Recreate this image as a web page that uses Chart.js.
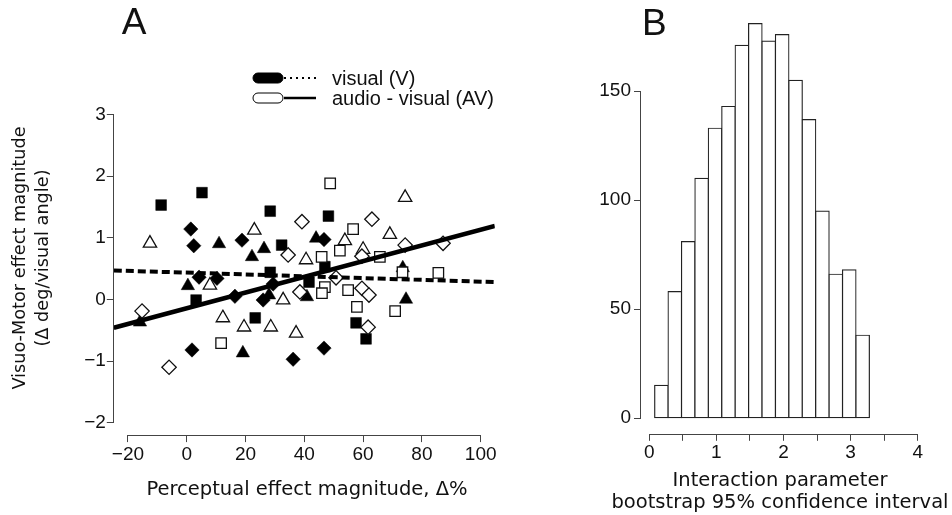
<!DOCTYPE html>
<html>
<head>
<meta charset="utf-8">
<script src="https://cdn.jsdelivr.net/npm/chart.js@4.4.0/dist/chart.umd.min.js"></script>
<style>
  body { margin: 0; background: #fff; width: 952px; height: 515px; overflow: hidden; position: relative; }
  canvas { position: absolute; top: 0; }
  #chart-a { left: 0; }
  #chart-b { left: 560px; }
</style>
</head>
<body>
<canvas id="chart-a" width="560" height="515"></canvas>
<canvas id="chart-b" width="392" height="515"></canvas>
<script>
// ---- panel A data ----
const xTicksA = [-20, 0, 20, 40, 60, 80, 100];
const yTicksA = [-2, -1, 0, 1, 2, 3];

// visual (V): filled markers
const vSquaresX = [-8.7, 5.2, 28.4, 48.2, 32.3, 3.2, 23.3, 28.4, 47.0, 41.6, 57.6, 61.0];
const vSquaresY = [1.53, 1.73, 1.43, 1.35, 0.88, -0.01, -0.30, 0.44, 0.53, 0.28, -0.38, -0.64];
const vDiamondsX = [1.4, 2.4, 4.2, 10.3, 16.4, 26.0, 29.4, 18.8, 1.8, 36.2, 46.7, 46.7];
const vDiamondsY = [1.14, 0.87, 0.36, 0.34, 0.05, -0.01, 0.25, 0.96, -0.82, -0.97, -0.79, 0.97];
const vTrianglesX = [11.0, 0.4, -15.9, 19.1, 22.2, 26.3, 44.0, 40.9, 28.0, 74.6, 73.5];
const vTrianglesY = [0.90, 0.22, -0.37, -0.87, 0.69, 0.82, 0.99, 0.04, 0.07, 0.0, 0.51];

// audio - visual (AV): open markers
const avSquaresX = [48.8, 56.6, 52.1, 45.9, 65.7, 73.4, 85.6, 47.0, 46.0, 54.9, 57.9, 70.9, 11.7];
const avSquaresY = [1.88, 1.14, 0.79, 0.69, 0.69, 0.44, 0.43, 0.20, 0.10, 0.15, -0.12, -0.19, -0.71];
const avDiamondsX = [-15.2, -6.0, 39.2, 34.5, 63.0, 59.6, 74.3, 87.2, 50.8, 38.5, 59.6, 62.0, 61.7];
const avDiamondsY = [-0.19, -1.10, 1.26, 0.72, 1.30, 0.70, 0.88, 0.91, 0.35, 0.12, 0.18, 0.07, -0.45];
const avTrianglesX = [-12.5, 23.0, 7.9, 12.3, 19.5, 32.8, 28.6, 37.2, 40.6, 74.3, 69.1, 53.8, 60.0];
const avTrianglesY = [0.91, 1.12, 0.23, -0.30, -0.45, -0.01, -0.45, -0.55, 0.64, 1.65, 1.05, 0.95, 0.81];

// regression lines, end points at the plot edges
const fitX = [-24.8, 104.8];
const vFitY = [0.47, 0.28];
const avFitY = [-0.46, 1.19];

// ---- panel B data ----
const binCenters = [0.18, 0.38, 0.58, 0.78, 0.98, 1.18, 1.38, 1.58, 1.78, 1.98, 2.18, 2.38, 2.58, 2.78, 2.98, 3.18];
const binCounts = [15, 58, 81, 110, 133, 143, 171, 181, 173, 176, 155, 137, 95, 66, 68, 38];
const xTicksB = [0, 0.5, 1, 1.5, 2, 2.5, 3, 3.5, 4];
const yTicksB = [0, 50, 100, 150];

const tickFont = { family: 'Liberation Sans', size: 19 };
const titleFont = '19.5px "DejaVu Sans"';
const yTitleFont = '17.7px "DejaVu Sans"';
const ink = '#111';

function pts(xs, ys) {
    return xs.map((x, i) => ({ x: x, y: ys[i] }));
}

function minus(v) {
    return String(v).replace('-', '\u2212');
}

// R-like axis: ticks outside, no grid, labels only where given
function axis(min, max, ticks, size, pad, label) {
    return {
        type: 'linear', min: min, max: max,
        afterBuildTicks: s => { s.ticks = ticks.map(v => ({ value: v })); },
        afterFit: s => {
            if (s.isHorizontal()) s.height = size; else s.width = size;
            s.paddingTop = 0; s.paddingBottom = 0; s.paddingLeft = 0; s.paddingRight = 0;
        },
        border: { display: false },
        grid: { drawOnChartArea: false, drawTicks: true, tickLength: 7, color: '#444', lineWidth: 1, offset: false },
        ticks: { font: tickFont, color: ink, padding: pad, autoSkip: false, maxRotation: 0, callback: label || minus }
    };
}

// axis lines only between first and last tick, as R draws them
function drawAxisLines(chart, xt, yt) {
    const { ctx, chartArea: a, scales: { x, y } } = chart;
    ctx.save();
    ctx.strokeStyle = '#444';
    ctx.lineWidth = 1;
    ctx.beginPath();
    const by = Math.round(a.bottom) + 0.5;
    ctx.moveTo(x.getPixelForValue(xt[0]), by);
    ctx.lineTo(x.getPixelForValue(xt[xt.length - 1]), by);
    const lx = Math.round(a.left) - 0.5;
    ctx.moveTo(lx, y.getPixelForValue(yt[0]));
    ctx.lineTo(lx, y.getPixelForValue(yt[yt.length - 1]));
    ctx.stroke();
    ctx.restore();
}

function text(ctx, str, x, y, font, align, rot) {
    ctx.save();
    ctx.translate(x, y);
    if (rot) ctx.rotate(rot);
    ctx.font = font;
    ctx.fillStyle = ink;
    ctx.textAlign = align || 'center';
    ctx.textBaseline = 'middle';
    ctx.fillText(str, 0, 0);
    ctx.restore();
}

function pill(ctx, x, y, w, h, filled) {
    const r = h / 2;
    ctx.beginPath();
    ctx.moveTo(x + r, y - r);
    ctx.lineTo(x + w - r, y - r);
    ctx.arc(x + w - r, y, r, -Math.PI / 2, Math.PI / 2);
    ctx.lineTo(x + r, y + r);
    ctx.arc(x + r, y, r, Math.PI / 2, Math.PI * 1.5);
    ctx.closePath();
    ctx.fillStyle = filled ? '#000' : '#fff';
    ctx.fill();
    ctx.lineWidth = 1;
    ctx.strokeStyle = '#000';
    ctx.stroke();
}

const legendRows = [
    { label: 'visual (V)', filled: true, dash: [2, 4], width: 2 },
    { label: 'audio - visual (AV)', filled: false, dash: [], width: 2.5 }
];

const panelA = {
    id: 'panelA',
    afterDraw(chart) {
        const ctx = chart.ctx;
        drawAxisLines(chart, xTicksA, yTicksA);
        text(ctx, 'A', 134, 24, '37px "Liberation Sans"');
        text(ctx, 'Perceptual effect magnitude, \u0394%', 307, 490, titleFont);
        text(ctx, 'Visuo-Motor effect magnitude', 20, 258, yTitleFont, 'center', -Math.PI / 2);
        text(ctx, '(\u0394 deg/visual angle)', 43, 258, yTitleFont, 'center', -Math.PI / 2);
        legendRows.forEach((row, i) => {
            const y = 78 + i * 20;
            ctx.save();
            pill(ctx, 253, y, 30, 10, row.filled);
            ctx.beginPath();
            ctx.setLineDash(row.dash);
            ctx.lineWidth = row.width;
            ctx.strokeStyle = '#000';
            ctx.moveTo(284, y);
            ctx.lineTo(316, y);
            ctx.stroke();
            ctx.restore();
            text(ctx, row.label, 332, y + 1, '20px "Liberation Sans"', 'left');
        });
    }
};

const openStyle = { backgroundColor: '#fff', borderColor: ink, borderWidth: 1.3 };
const filledStyle = { backgroundColor: '#000', borderColor: '#000', borderWidth: 0.5 };

new Chart(document.getElementById('chart-a'), {
    type: 'scatter',
    data: {
        datasets: [
            { type: 'line', label: 'AV fit', data: pts(fitX, avFitY), borderColor: '#000', borderWidth: 4.5, pointRadius: 0, tension: 0 },
            { type: 'line', label: 'V fit', data: pts(fitX, vFitY), borderColor: '#000', borderWidth: 4, borderDash: [8, 4], pointRadius: 0, tension: 0 },
            Object.assign({ label: 'AV squares', data: pts(avSquaresX, avSquaresY), pointStyle: 'rect', pointRadius: 7.4 }, openStyle),
            Object.assign({ label: 'AV diamonds', data: pts(avDiamondsX, avDiamondsY), pointStyle: 'rectRot', pointRadius: 7.2 }, openStyle),
            Object.assign({ label: 'AV triangles', data: pts(avTrianglesX, avTrianglesY), pointStyle: 'triangle', pointRadius: 7.7 }, openStyle),
            Object.assign({ label: 'V squares', data: pts(vSquaresX, vSquaresY), pointStyle: 'rect', pointRadius: 7.6 }, filledStyle),
            Object.assign({ label: 'V diamonds', data: pts(vDiamondsX, vDiamondsY), pointStyle: 'rectRot', pointRadius: 7.2 }, filledStyle),
            Object.assign({ label: 'V triangles', data: pts(vTrianglesX, vTrianglesY), pointStyle: 'triangle', pointRadius: 7.7 }, filledStyle)
        ]
    },
    options: {
        responsive: false,
        animation: false,
        devicePixelRatio: 1,
        layout: { padding: { left: 0, top: 102, right: 65.2, bottom: 0 } },
        scales: {
            x: axis(-24.8, 104.8, xTicksA, 515 - 435.1, 1),
            y: axis(-2.2, 3.2, yTicksA, 113.8, 1)
        },
        plugins: { legend: { display: false }, tooltip: { enabled: false } }
    },
    plugins: [panelA]
});

const panelB = {
    id: 'panelB',
    afterDraw(chart) {
        const ctx = chart.ctx;
        drawAxisLines(chart, xTicksB, yTicksB);
        text(ctx, 'B', 82, 25, '37px "Liberation Sans"', 'left');
        text(ctx, 'Interaction parameter', 220, 481, titleFont);
        text(ctx, 'bootstrap 95% confidence interval', 220, 503, titleFont);
    }
};

new Chart(document.getElementById('chart-b'), {
    type: 'bar',
    data: {
        datasets: [{
            label: 'count',
            data: pts(binCenters, binCounts),
            backgroundColor: '#fff',
            borderColor: '#222',
            borderWidth: 1.2,
            borderSkipped: false,
            inflateAmount: 0.6,
            barPercentage: 1,
            categoryPercentage: 1
        }]
    },
    options: {
        responsive: false,
        animation: false,
        devicePixelRatio: 1,
        layout: { padding: { left: 0, top: 8, right: 23.6, bottom: 0 } },
        scales: {
            x: Object.assign(axis(-0.124, 4.16, xTicksB, 515 - 433.8, 1, v => Number.isInteger(v) ? String(v) : ''), { offset: false }),
            y: axis(-7.24, 188.2, yTicksB, 81, 3)
        },
        plugins: { legend: { display: false }, tooltip: { enabled: false } }
    },
    plugins: [panelB]
});
</script>
</body>
</html>
